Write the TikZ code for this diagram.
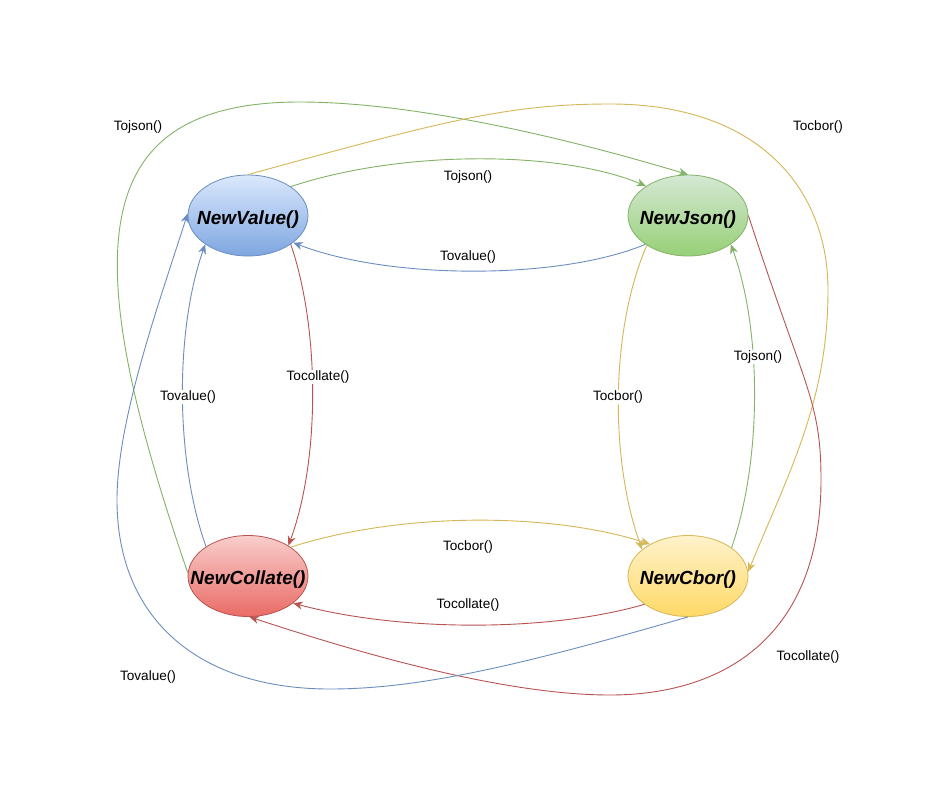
\documentclass[tikz,border=0pt]{standalone}
\usepackage{fontspec}
\setmainfont{Liberation Sans}
\usetikzlibrary{shapes.geometric,arrows.meta}
\definecolor{bS}{HTML}{6C8EBF}\definecolor{bT}{HTML}{DAE8FC}\definecolor{bB}{HTML}{7EA6E0}
\definecolor{gS}{HTML}{82B366}\definecolor{gT}{HTML}{D5E8D4}\definecolor{gB}{HTML}{97D077}
\definecolor{rS}{HTML}{B85450}\definecolor{rT}{HTML}{F8CECC}\definecolor{rB}{HTML}{EA6B66}
\definecolor{yS}{HTML}{D6B656}\definecolor{yT}{HTML}{FFF2CC}\definecolor{yB}{HTML}{FFD966}
\begin{document}
\begin{tikzpicture}[x=1pt,y=-1pt,
  state/.style={ellipse, minimum width=120pt, minimum height=81pt, inner sep=0pt, line width=0.8pt},
  fname/.style={font=\fontsize{19}{22}\selectfont\bfseries\itshape, yshift=-4pt, inner sep=0pt},
  lbl/.style={font=\fontsize{13.6}{16}\selectfont, fill=white, inner sep=1pt},
  conn/.style={line width=0.9pt, -{Stealth[length=9.5pt,width=8pt,inset=3pt]}},
]
\useasboundingbox[fill=white] (0,0) rectangle (944,798);

\node[state, draw=bS, top color=bT, bottom color=bB, label={[fname]center:NewValue()}] (nv) at (248,215.5) {};
\node[state, draw=gS, top color=gT, bottom color=gB, label={[fname]center:NewJson()}] (nj) at (688,215.5) {};
\node[state, draw=rS, top color=rT, bottom color=rB, label={[fname]center:NewCollate()}] (nc) at (248,576) {};
\node[state, draw=yS, top color=yT, bottom color=yB, label={[fname]center:NewCbor()}] (nb) at (688,576) {};

% small edges
\draw[conn, gS] (nv.34) .. controls (400,150) and (560,150) .. (nj.145);
\draw[conn, bS] (nj.214) .. controls (560,280) and (390,280) .. (nv.-31);
\draw[conn, yS] (nc.34) .. controls (400,512) and (550,512) .. (nb.140);
\draw[conn, rS] (nb.213) .. controls (550,632) and (400,632) .. (nc.-31);
\draw[conn, rS] (nv.-34) .. controls (320,330) and (320,460) .. (nc.37);
\draw[conn, bS] (nc.145) .. controls (175,460) and (175,330) .. (nv.214);
\draw[conn, yS] (nj.216) .. controls (610,330) and (610,460) .. (nb.150);
\draw[conn, gS] (nb.33) .. controls (762,460) and (762,330) .. (nj.-34);

% big edges
\draw[conn, gS] (nc.177) .. controls (80,260) and (80,102) .. (300,102)
  .. controls (400,102) and (540,130) .. (nj.north);
\draw[conn, yS] (nv.north) .. controls (446,120) and (510,104) .. (610,104)
  .. controls (760,104) and (828,190) .. (828,290)
  .. controls (828,400) and (790,470) .. (nb.4);
\draw[conn, rS] (nj.east) .. controls (805,390) and (821,400) .. (821,480)
  .. controls (821,640) and (720,695) .. (610,695)
  .. controls (500,695) and (350,650) .. (nc.-88);
\draw[conn, bS] (nb.south) .. controls (522,665) and (420,689) .. (330,689)
  .. controls (200,689) and (117,620) .. (117,500)
  .. controls (117,420) and (159,303) .. (nv.178);

% labels
\node[lbl] (l1) at (138,127) {Tojson()};
\node[lbl] (l2) at (818,127) {Tocbor()};
\node[lbl] (l3) at (468,177) {Tojson()};
\node[lbl] (l4) at (468,257) {Tovalue()};
\node[lbl] (l5) at (318,377) {Tocollate()};
\node[lbl] (l6) at (188,397) {Tovalue()};
\node[lbl] (l7) at (618,397) {Tocbor()};
\node[lbl] (l8) at (758,357) {Tojson()};
\node[lbl] (l9) at (468,547) {Tocbor()};
\node[lbl] (l10) at (468,605) {Tocollate()};
\node[lbl] (l11) at (148,677) {Tovalue()};
\node[lbl] (l12) at (808,657) {Tocollate()};
\end{tikzpicture}
\end{document}
